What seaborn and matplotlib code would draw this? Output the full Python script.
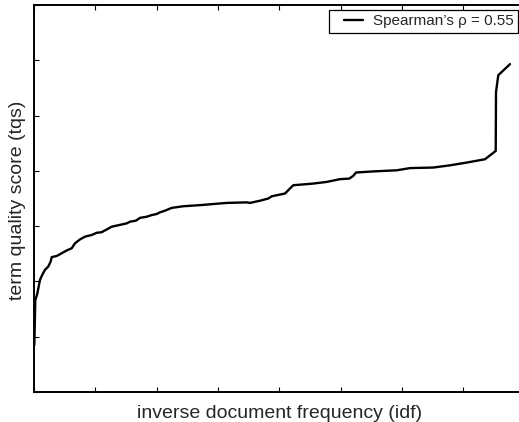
import numpy as np
import pandas as pd
import matplotlib
matplotlib.use("Agg")
import matplotlib.pyplot as plt
from matplotlib.legend_handler import HandlerLine2D
import seaborn as sns

# ---- data ----
idf = [0.005, 0.021, 0.054, 0.098, 0.135, 0.179, 0.233, 0.272, 0.289, 0.370,
       0.452, 0.533, 0.615, 0.669, 0.750, 0.832, 0.941, 1.023, 1.104, 1.186,
       1.268, 1.349, 1.512, 1.566, 1.664, 1.729, 1.838, 1.920, 2.002, 2.055,
       2.137, 2.246, 2.436, 2.708, 2.925, 3.144, 3.470, 3.524, 3.687, 3.822,
       3.878, 4.095, 4.148, 4.230, 4.556, 4.775, 4.992, 5.144, 5.209, 5.253,
       5.535, 5.917, 6.134, 6.514, 6.786, 7.059, 7.357, 7.532, 7.537, 7.574,
       7.765]
tqs = [0.85, 1.66, 1.78, 2.03, 2.12, 2.21, 2.27, 2.36, 2.44, 2.46,
       2.51, 2.56, 2.60, 2.69, 2.76, 2.81, 2.84, 2.88, 2.89, 2.94,
       2.99, 3.01, 3.05, 3.08, 3.10, 3.15, 3.17, 3.20, 3.22, 3.25,
       3.28, 3.33, 3.36, 3.38, 3.40, 3.42, 3.43, 3.42, 3.46, 3.50,
       3.54, 3.59, 3.65, 3.74, 3.77, 3.80, 3.85, 3.86, 3.91, 3.97,
       3.99, 4.01, 4.05, 4.06, 4.10, 4.15, 4.21, 4.36, 5.43, 5.73,
       5.93]
x_ticks = [0, 1, 2, 3, 4, 5, 6, 7, 8]
y_ticks = [0, 1, 2, 3, 4, 5, 6, 7]
legend_label = "Spearman\u2019s \u03c1 = 0.55"
x_label = "inverse document frequency (idf)"
y_label = "term quality score (tqs)"

df = pd.DataFrame({"idf": idf, "tqs": tqs})

sns.set_style("ticks")
plt.rcParams["font.family"] = ["Liberation Sans", "DejaVu Sans"]

W, H = 519, 422
fig = plt.figure(figsize=(W / 100, H / 100), dpi=100)
ax_left, ax_right, ax_top, ax_bottom = 34, 524.4, 5, 392
ax = fig.add_axes([ax_left / W, 1 - ax_bottom / H,
                   (ax_right - ax_left) / W, (ax_bottom - ax_top) / H])

sns.lineplot(data=df, x="idf", y="tqs", ax=ax, color="black", linewidth=1.7,
             sort=False, estimator=None, legend=False)

ax.set_xlim(x_ticks[0], x_ticks[-1])
ax.set_ylim(y_ticks[0], y_ticks[-1])
ax.set_xticks(x_ticks)
ax.set_yticks(y_ticks)
ax.set_xticklabels([])
ax.set_yticklabels([])
ax.tick_params(direction="in", length=3.5, width=0.8, color="black",
               top=True, right=True, bottom=True, left=True)
for s in ax.spines.values():
    s.set_visible(True)
    s.set_linewidth(1.4)
    s.set_color("black")

ax.set_xlabel(x_label, fontsize=14)
ax.set_ylabel(y_label, fontsize=14)
ax_w = ax_right - ax_left
ax_h = ax_bottom - ax_top
ax.xaxis.set_label_coords(0.5, -(405 - ax_bottom) / ax_h)
ax.yaxis.set_label_coords(-(ax_left - 26) / ax_w, 0.5 - 2 / ax_h)

line = ax.get_lines()[0]
fs = 11
leg = ax.legend(handles=[line], labels=[legend_label],
                handler_map={line: HandlerLine2D(xpad=0.68)},
                loc="upper right", bbox_to_anchor=(518 / W, 1 - 9.5 / H),
                bbox_transform=fig.transFigure, borderaxespad=0,
                fontsize=fs, frameon=True, fancybox=False, shadow=False,
                framealpha=1, edgecolor="black", borderpad=0.3,
                handlelength=1.92, handletextpad=0.61)
leg.get_frame().set_linewidth(0.9)

fig.savefig("out.png", dpi=100)
